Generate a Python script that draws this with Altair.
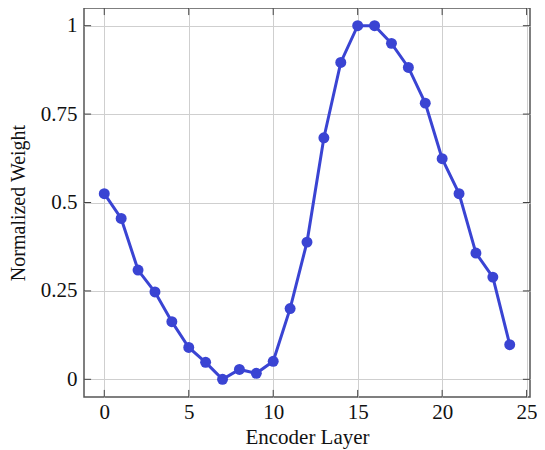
import altair as alt
import pandas as pd

layers = list(range(25))
weights = [0.525, 0.455, 0.309, 0.247, 0.163, 0.090, 0.048, 0.0, 0.028, 0.017,
           0.051, 0.200, 0.388, 0.683, 0.896, 1.0, 1.0, 0.950, 0.882, 0.781,
           0.624, 0.525, 0.357, 0.289, 0.098]
x_ticks = [0, 5, 10, 15, 20, 25]
y_ticks = [0, 0.25, 0.5, 0.75, 1]

X_DOM = [-1.2, 25.2]
Y_DOM = [-0.05, 1.05]
COLOR = "#3a44d3"
FONT = "Liberation Serif"
TLY = 0.02
TLX = 0.42

df = pd.DataFrame({"layer": layers, "weight": weights})
# tick mark rows: inward ticks on all four sides
dfx = pd.DataFrame(
    [{"t": t, "a": Y_DOM[0], "b": Y_DOM[0] + TLY} for t in x_ticks]
    + [{"t": t, "a": Y_DOM[1], "b": Y_DOM[1] - TLY} for t in x_ticks])
dfy = pd.DataFrame(
    [{"t": t, "a": X_DOM[0], "b": X_DOM[0] + TLX} for t in y_ticks]
    + [{"t": t, "a": X_DOM[1], "b": X_DOM[1] - TLX} for t in y_ticks])

xs = alt.Scale(domain=X_DOM, nice=False, zero=False)
ys = alt.Scale(domain=Y_DOM, nice=False, zero=False)
xax = alt.Axis(values=x_ticks, labelExpr="'' + datum.value")
yax = alt.Axis(values=y_ticks, labelExpr="'' + datum.value")

main = alt.Chart(df).mark_line(
    color=COLOR, strokeWidth=3,
    point=alt.OverlayMarkDef(color=COLOR, size=120, filled=True, opacity=1)
).encode(
    x=alt.X("layer:Q", scale=xs, title="Encoder Layer", axis=xax),
    y=alt.Y("weight:Q", scale=ys, title="Normalized Weight", axis=yax),
)

xt = alt.Chart(dfx).mark_rule(color="#444", strokeWidth=1).encode(
    x=alt.X("t:Q", scale=xs, title="Encoder Layer", axis=xax),
    y=alt.Y("a:Q", scale=ys, title="Normalized Weight", axis=yax), y2="b:Q")
yt = alt.Chart(dfy).mark_rule(color="#444", strokeWidth=1).encode(
    y=alt.Y("t:Q", scale=ys, title="Normalized Weight", axis=yax),
    x=alt.X("a:Q", scale=xs, title="Encoder Layer", axis=xax), x2="b:Q")

chart = alt.layer(main, xt, yt).properties(
    width=446, height=389,
    autosize=alt.AutoSizeParams(type="none"),
    padding={"left": 76, "top": 0, "right": 7, "bottom": 54},
).configure_view(
    stroke="#555555", strokeWidth=1.5
).configure_axis(
    domain=False, ticks=False, grid=True, gridColor="#cfcfcf", gridWidth=1,
    labelFont=FONT, labelFontSize=21, labelColor="#111",
    titleFont=FONT, titleColor="#111", titleFontWeight="normal",
).configure_axisX(
    titleFontSize=21, labelPadding=4, titlePadding=4
).configure_axisY(
    titleFontSize=20, labelPadding=7, titlePadding=12
)

chart.save("out.html", embed_options={"renderer": "svg", "actions": False})
